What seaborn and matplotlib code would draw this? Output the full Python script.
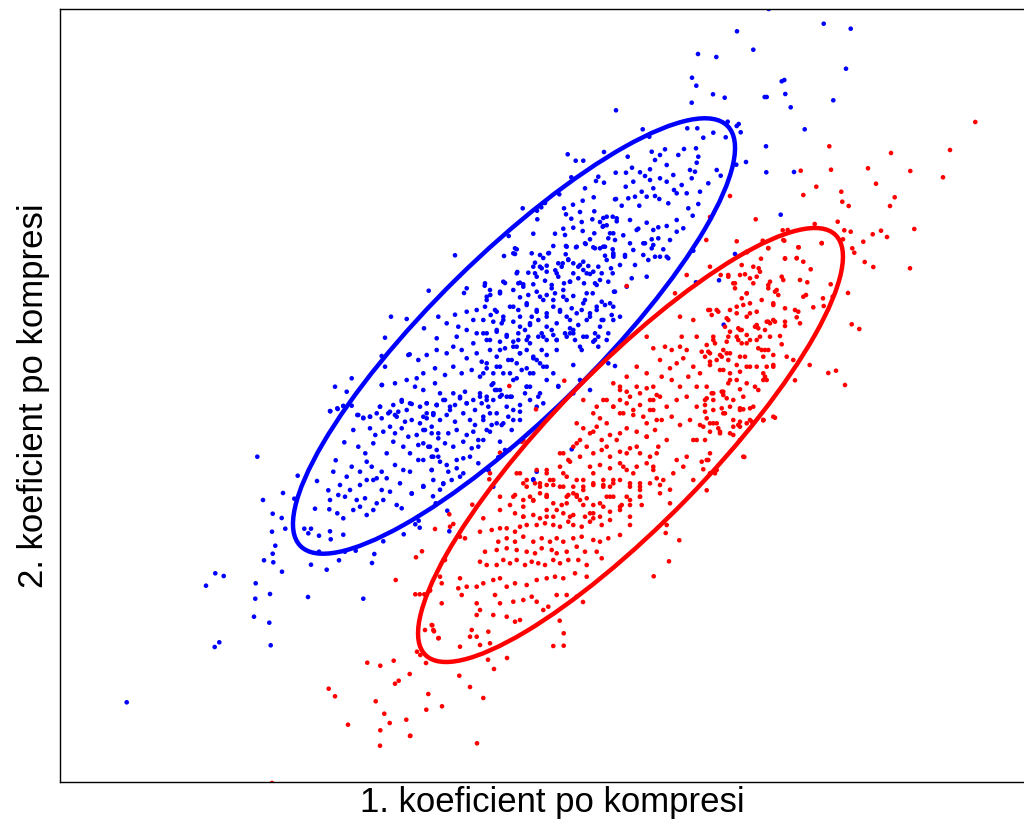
import pandas as pd
import matplotlib
matplotlib.use('Agg')
import matplotlib.pyplot as plt
from matplotlib.patches import Ellipse
import seaborn as sns

# souradnice bodu (x, y), y roste smerem dolu
blue_core = [
    (559.3,194.3),(582.7,200.7),(593.7,197.3),(615,199.3),(537,210.7),(541.3,207.3),(545,203),(537.3,219.3),
    (564,208.3),(573,204.7),(580,212),(594.3,211.3),(603.3,218),(612.7,216.7),(566,214.3),(571.3,218.7),
    (581.7,222),(592.3,219.3),(600,222),(602.7,226.7),(606.7,225.3),(616.7,221.3),(571.3,177.3),(585,188.3),
    (596,181),(598.3,176.7),(604,182.7),
    (563.3,228.7),(573.3,227.7),(555,233.7),(533.3,233.7),(553.3,246),(565,235),(582.7,231),(594.3,233.3),
    (590,239.3),(608.3,238.3),(613.3,233.3),(508.7,236),(516.7,249.3),(515,254),(504,256),
    (531.7,253.3),(543.3,258),(549,253),(566,246),(576,247.3),(585.7,244),(593.3,247.3),(600,248.3),
    (605,255.7),(612.7,249.3),(613.3,256.7),(535,262.7),(540,266.7),(546.7,265.7),(555.3,270.3),(562.7,263.3),
    (565.7,254.3),(568.3,259.3),(573.3,263.3),(578.3,266.7),(583.3,261.7),(588.3,266),(593.3,271.7),(601.7,273.3),
    (611,268.3),(517.3,272),(528.3,272.7),(536.7,276.7),(533.3,284.3),(523.3,284.3),(520,282.7),(545,280.7),
    (551.7,285),(558.3,276.7),(564,283.3),(570,281.7),(573.3,273.3),(578.3,278.3),(584,283.3),(590,274),
    (595,283.3),(600,280),(608.3,281.7),(612.7,273.3),(614,291.7),(484.7,285.7),(505,283),(464,293),
    (466.7,288.3),(486.7,296.7),(490.3,295),(500,291.7),(513.3,290),(520,297.3),(528.3,295),(536.7,291.7),
    (543.3,300),(546.7,295),(555,293.3),(563.3,296.7),(573.3,296),(585,300),(592.7,293.3),(601.7,301.7),
    (610,303.3),(455,314.7),(466.7,311.7),(476.7,310),(485,306.7),(490.7,315),(496.7,311.7),(503.3,316.7),
    (510,306.7),(518.3,310),(526.7,305),(531.7,316.7),(536.7,311.7),(546.7,313.3),(553.3,306.7),(560,311.7),
    (566.7,316.7),(571.7,308.3),(581.7,310),(590,313.3),(596.7,306.7),(603.3,320),(611.7,315),(613.3,306.7),
    (473.3,320),(483.3,320),(493.3,321.7),(501.7,323.3),(513.3,321.7),(520,326.7),(530,325),(538.3,320),
    (546.7,326.7),(556.7,323.3),(570,328.3),(578.3,325),(586.7,320),(600,326.7),(608.3,333.3),(438.3,316.7),
    (446.7,323.3),(458.3,326.7),(466.7,330),(476.7,333.3),(486.7,333.3),(496.7,331.7),(506.7,335),(518.3,333.3),
    (528.3,336.7),(541.7,333.3),(553.3,335),(573.3,333.3),(583.3,336.7),(595,333.3),(424,328.3),
    (408.3,355),(418.3,360),(426.7,355),(436.7,350),(446.7,353.3),(453.3,346.7),(461.7,350),(466.7,358.3),
    (476.7,353.3),(481.7,361.7),(490,350),(496.7,356.7),(505,348.3),(511.7,360),(516.7,346.7),(520,353.3),
    (526.7,350),(533.3,358.3),(540,363.3),(546.7,355),(556.7,350),(566.7,336.7),(575,340),(436.7,338.3),
    (456.7,336.7),(473.3,343.3),(486.7,340),(500,341.7),(513.3,341.7),(526.7,340),(543.3,336.7),(556.7,340),
    (573.3,365),(581.7,350),(593.3,341.7),(598.3,336.7),(395,383.3),(406.7,380),(416.7,378.3),(423.3,373.3),
    (435,368.3),(445,375),(453.3,366.7),(461.7,373.3),(471.7,370),(480,376.7),(486.7,368.3),(493.3,373.3),
    (500,366.7),(510,373.3),(516.7,378.3),(526.7,368.3),(533.3,373.3),(546.7,366.7),(553.3,373.3),(409.7,354.3),
    (330,411),(337.3,408.3),(343.3,406),(357.3,415),(363.3,417.7),(370,416.7),(380,406.7),(381.7,385),
    (390,411.7),(395,415),(398.3,411.7),(401.7,400),(406.7,410),(410,403.3),(415,386.7),(420,406.7),
    (426.7,413.3),(433.3,413.3),(436.7,405),(443.3,400),(450,410),(455,405),(460,396.7),(466.7,403.3),
    (475,410),(480,396.7),(488.3,406.7),(493.3,400),(500,390),(506.7,396.7),(513.3,410),(520,405),
    (525,393.3),(530,386.7),(538.3,396.7),(543.3,403.3),(346.7,391.7),(385,366.7),
    (380,406.7),(393.3,405),(401.7,401.7),(411.7,404),(426.7,403.3),(436.7,405),(358.3,415),(363.3,418.3),
    (370,416.7),(376.7,413.3),(381.7,418.3),(388.3,413.3),(396.7,416.7),(405,421.7),(411.7,420),(420,423.3),
    (426.7,418.3),(433.3,415),(353.3,430),(370,428.3),(375.3,435),(383.3,431.7),(390,426.7),(395,433.3),
    (401.7,428.3),(408.3,436.7),(416.7,435),(425,430),(431.7,426.7),(438.3,433.3),(344.3,442.3),(358.3,446.7),
    (365.3,453.3),(373.3,443.3),(386.7,453.3),(393.3,441.7),(403.3,446.7),(410,453.3),(418.3,445),(428.3,446.7),
    (433.3,456.7),(335.7,460.3),(346.7,476.7),(351.7,466.7),(360,471.7),(366.7,461.7),(371.7,466.7),(376.7,478.3),
    (381.7,471.7),(386.7,478.3),(395,465),(403.3,470),(410,471.7),(418.3,460),(423.3,486.7),(431.7,470),
    (438.3,456.7),(317,481),(328.3,490.3),(333.3,471.7),(340,485),(350,490),(360,485),(366.7,480),
    (373.3,480),(381.7,490),(390,491.7),(400,483.3),(411.7,493.3),(330,500),(338.3,495),(345,496.7),
    (356.7,500),(365,498.3),(376.7,503.3),(383.3,500),(396.7,505),(315,508.7),(329.3,509.3),(337.3,513.3),
    (343.3,518.3),(353.3,510),(360,506.7),(366.7,515),(373.3,510),(401.7,508.3),(304.3,528.7),(308.3,533.3),
    (311,528.7),(319,535.7),(330,531.3),(330.7,539.3),(343.3,534.7),(319,551.7),
    (627.7,156.7),(615.7,172.7),(626,172.7),(632,167.7),(640,172.3),(645,176),(650,169.3),(651.7,151.7),
    (655,160),(660,155),(665,149.3),(666.7,165),(673.3,175),(678.3,155),(684,149),(690,170),
    (695,171.7),(696,148.3),(698.3,156.7),(696.7,162.7),(687.3,128.3),(697.3,128.3),(703.3,137.7),(713.3,132.7),
    (649.3,136.7),(642.7,129.3),(625.7,186.7),(633.3,181.7),(641.7,191.7),(650,180),(653.3,188.3),(660,178.3),
    (666.7,181.7),(674,190),(681.7,185),(686.7,193.3),(691.7,178.3),(700,191.7),(708.3,183.3),(716.7,170),
    (616,199),(621.7,205.7),(628.3,198.3),(635,196.7),(639.3,205.7),(646.7,196.7),(655,196),(659.3,199),
    (668.3,203.3),(676.7,193.3),(688.3,208.3),(692.7,215.7),(698.3,204),(606.7,216.7),(616.7,218.3),(630,220),
    (638.3,228.7),(646.7,222.7),(653.3,230),(658.3,227.3),(666.7,226),(676.7,220),(683.3,228.3),(603.3,226),
    (610,233.3),(615,240),(623.3,235.3),(630,243.3),(636.7,230),(645,243.3),(651.7,239.3),(658.3,238.3),
    (663.3,249.3),(670,240),(676.7,231.7),(603.3,246.7),(613.3,253.3),(625,255),(633.3,250),(643.3,255),
    (651.7,248.3),(660,256.7),(668.3,258.3),(693.3,250.7),
    (485,283.3),(486.7,300),(490,290),(500,293.3),(503.3,281.7),(513.3,253.3),(515,248.3),(516.7,273.3),
    (518.3,283.3),(523.3,286.7),(533.3,266.7),(535,273.3),(540,255),(541.7,268.3),(546.7,271.7),(548.3,253.3),
    (551.7,288.3),(556.7,273.3),(558.3,263.3),(561.7,266.7),(566.7,246.7),(568.3,260),(570,281.7),(576.7,246.7),
    (580,265),(583.3,270),(585,243.3),(586.7,273.3),(595,248.3),(596.7,285),(598.3,266.7),(605,246.7),
    (606.7,260),(613.3,255),(615,291.7),(620,265),(625,256.7),(626.7,286.7),(631.7,278.3),(635,265),
    (643.3,243.3),(646.7,276.7),(648.3,260),(653.3,245),(655,256.7),(666.7,256.7),(495,310),(503.3,320),
    (513.3,306.7),(520,316.7),(526.7,303.3),(530,323.3),(536.7,310),(540,296.7),(546.7,316.7),(553.3,300),
    (560,310),(566.7,300),(570,320),(576.7,313.3),(583.3,303.3),(590,316.7),(596.7,310),(601.7,320),
    (605,305),(613.3,320),(620,316.7),(586.7,293.3),(563.3,290),(483.3,333.3),(490,340),(496.7,330),
    (500,350),(506.7,336.7),(513.3,346.7),(518.3,340),(520,353.3),(525,330),(530,343.3),(533.3,356.7),
    (538.3,336.7),(541.7,350),(546.7,340),(551.7,330),(556.7,340),(565,333.3),(570,333.3),(573.3,330),
    (580,346.7),(586.7,336.7),(595,340),(598.3,346.7),(606.7,340),(483.3,373.3),(486.7,363.3),(493.3,383.3),
    (496.7,366.7),(503.3,373.3),(508.3,360),(513.3,380),(516.7,363.3),(521.7,370),(530,373.3),(536.7,360),
    (543.3,366.7),(546.7,380),(558.3,386.7),(573.3,393.3),(580,380),(486.7,400),(495,390),(500,396.7),
    (506.7,406.7),(511.7,396.7),(520,411.7),(526.7,386.7),(530,400),(536.7,406.7),(540,393.3),(483.3,420),
    (490,431.7),(496.7,413.3),(503.3,423.3),(511.7,430),(520,420),(483.3,440),(500,441.7),(505,450),
    (488.3,470),(493.3,486.7),(533.3,480),(536.7,471.7),
    (423.3,390),(435,383.3),(440,393.3),(426.7,403.3),(436.7,405),(445,400),(450,406.7),(453.3,393.3),
    (460,398.3),(465,391.7),(466.7,403.3),(473.3,400),(480,393.3),(481.7,403.3),(486.7,396.7),(491.7,385),
    (496.7,390),(501.7,395),(510,396.7),(423.3,416.7),(433.3,413.3),(440,420),(446.7,415),(455,421.7),
    (463.3,413.3),(470,420),(475,425),(483.3,416.7),(490,413.3),(496.7,423.3),(501.7,425),(508.3,416.7),
    (513.3,420),(423.3,430),(431.7,433.3),(438.3,438.3),(448.3,433.3),(456.7,430),(466.7,435),(473.3,431.7),
    (478.3,440),(486.7,430),(491.7,425),(423.3,443.3),(430,446.7),(436.7,450),(445,443.3),(453.3,446.7),
    (463.3,441.7),(471.7,448.3),(478.3,446.7),(423.3,460),(431.7,456.7),(440,461.7),(446.7,465),(456.7,460),
    (463.3,458.3),(470,456.7),(478.3,463.3),(431.7,470),(448.3,471.7),(456.7,468.3),(463.3,473.3),(423.3,486.7),
    (433.3,480),(443.3,483.3),(451.7,480),(460,476.7),(488.3,470),(498.3,457.3),
]

blue_outer = [
    (257.3,456.7),(263,500),(283,493),(272.7,513.7),(281.7,518),(285.3,528.7),(272,531.7),(275.3,545.7),
    (272.7,553.7),(264,560.3),(273.3,562.3),(282,571.7),(215.3,573.3),(223.7,576),(206,585.7),(255.7,583.3),
    (270,594),(255.3,598.7),(308,597),(363.3,598.7),(254,616.7),(269.3,622.7),(219.3,642.3),(214.7,647),
    (270.7,645.3),(126.7,702.3),(311,564.7),(326.7,569.7),(339,560.3),(372,563),(374.3,554),(383.3,541.3),
    (403.7,534.3),(415.3,524.3),(419.7,527.7),(355.7,550.7),(345,551.7),(297.7,475.7),(294.3,498.7),
    (330.3,411.3),(337.7,409),(343.3,406),(351.7,405.7),(423.3,486),(411.7,493.7),(433,496.3),(435.7,503.3),
    (440,489.7),(443.3,484),(447.3,510.7),(449.3,531.3),(418.7,520.7),
    (768.7,9),(823.7,23.7),(850.7,28.7),(737,31.3),(753.3,49.7),(698,54),(716.3,57),(846,68.7),
    (692,77.7),(696.3,85.7),(781.7,81.3),(784.3,80),(713,94.3),(724.7,97.7),(764.7,97),(766.7,97),
    (785.3,94),(691.7,102.7),(833.3,100.3),(790.7,107.3),(616,110.3),(804.7,129.3),(766,146.3),(746,162),
    (766.3,172.3),(794,172),(780.7,214.7),(738.7,124),(736.7,126),(740.7,132.3),(727.7,121.7),(736.3,164.7),
    (725.7,137.3),(720.7,175.7),(604,152),
    (567.7,154.3),(575.7,160.7),(583.3,160.7),(522.7,208.3),(455,255.3),(391,316.7),(406.7,319),(428.7,290.7),
    (385,337.7),(381.7,356),(382,385),(335,386.7),(351.7,378.3),
    (735,254),(719,280.3),(723.7,324.7),(696,282.3),(571.7,449.3),(533.3,479.3),(608.3,363.3),(615,366),
    (526.7,386.7),(558.3,386),(590,390),
]

red_core = [
    (710,266.7),(720.7,275),(728.3,275),(735,283.3),(745,274.3),(746.7,293.3),(753.3,283.3),(758.7,268.3),
    (768.3,285),(775,291.7),(773.3,305),(710,310),(718.3,311.7),(728.3,320),(736.7,306.7),(740,330),
    (746.7,316.7),(756.7,325),(766.7,321.7),(773.3,320),(680,316.7),(693.3,320),(681.7,336.7),(696.7,336.7),
    (713.3,340),(728.3,336.7),(736.7,336.7),(746.7,343.3),(756.7,340),(765,350),(773.3,355),(653.3,348.3),
    (665,346.7),(671.7,350),(680,346.7),(686.7,350),(701.7,351.7),(710,353.3),(720,355),(730,353.3),
    (740,356.7),(746.7,366.7),(756.7,366.7),(765,376.7),(773.3,365),(646.7,336.7),(660,360),(670,368.3),
    (676.7,363.3),(683.3,358.3),(693.3,366.7),(700,373.3),(710,365),(720,370),(730,373.3),(736.7,380),
    (746.7,383.3),(755,386.7),(763.3,380),(626.7,376.7),(636.7,366.7),(646.7,373.3),(653.3,386.7),(661.7,376.7),
    (671.7,380),(680,386.7),(688.3,376.7),(696.7,386.7),(706.7,386.7),(713.3,393.3),(723.3,391.7),(733.3,400),
    (743.3,396.7),(753.3,406.7),(763.3,420),(773.3,416.7),(620,390),(630,396.7),(640,393.3),(650,400),
    (660,396.7),(666.7,406.7),(676.7,400),(686.7,396.7),(696.7,406.7),(705,400),(713.3,410),(723.3,413.3),
    (733.3,420),(740,408.3),(746.7,423.3),(603.3,400),(613.3,406.7),(623.3,413.3),(633.3,410),(643.3,416.7),
    (653.3,410),(661.7,420),(671.7,416.7),(680,425),(690,420),(700,425),(710,423.3),(720,431.7),
    (730,433.3),(740,426.7),
    (523.3,440),(536.7,470),(546.7,470),(560,453.3),(568.3,460),(573.3,446.7),(580,440),(590,433.3),
    (596.7,426.7),(606.7,446.7),(616.7,440),(626.7,453.3),(636.7,446.7),(646.7,436.7),(656.7,453.3),(666.7,440),
    (676.7,460),(686.7,456.7),(696.7,440),(706.7,460),(516.7,473.3),(526.7,480),(540,486.7),(553.3,480),
    (563.3,473.3),(573.3,493.3),(583.3,480),(593.3,473.3),(603.3,486.7),(613.3,480),(623.3,466.7),(633.3,473.3),
    (640,486.7),(653.3,466.7),(663.3,480),(673.3,473.3),(683.3,466.7),(693.3,480),(513.3,496.7),(523.3,506.7),
    (533.3,500),(546.7,496.7),(556.7,510),(566.7,503.3),(580,500),(590,513.3),(600,503.3),(610,496.7),
    (620,506.7),(630,500),(640,496.7),(660,493.3),(670,503.3),(500,510),(523.3,516.7),(546.7,516.7),
    (570,516.7),(593.3,518.3),(713.3,423.3),(720,433.3),(733.3,426.7),(740,440),(750,420),(763.3,420),
    (743.3,456.7),(716.7,470),(693.3,440),
    (583.3,400),(593.3,413.3),(600,418.3),(606.7,423.3),(613.3,383.3),(620,386.7),(626.7,391.7),(636.7,386.7),
    (646.7,388.3),(653.3,400),(626.7,403.3),(620,400),(640,405),(650,410),(656.7,395),(613.3,406.7),
    (606.7,400),(596.7,406.7),(620,413.3),(633.3,415),(646.7,423.3),(656.7,420),(576.7,423.3),(583.3,428.3),
    (593.3,431.7),(601.7,440),(610,435),(620,433.3),(626.7,428.3),(636.7,431.7),(646.7,436.7),(655,430),
    (563.3,453.3),(576.7,443.3),(586.7,446.7),(593.3,453.3),(601.7,450),(610,456.7),(620,451.7),(630,448.3),
    (640,453.3),(650,456.7),(658.3,446.7),(560,466.7),(570,461.7),(580,456.7),(590,466.7),(600,465),
    (610,468.3),(620,463.3),(626.7,470),(636.7,466.7),(646.7,463.3),(653.3,470),(546.7,473.3),(540,483.3),
    (550,480),(560,486.7),(566.7,476.7),(576.7,480),(583.3,490),(593.3,485),(603.3,480),(610,486.7),
    (620,480),(630,486.7),(640,490),(650,483.3),(656.7,478.3),(520,473.3),(526.7,486.7),(530,496.7),
    (546.7,496.7),(566.7,496.7),(576.7,495),(586.7,498.3),(606.7,496.7),(626.7,496.7),
    (521.7,441.7),(500,452.7),(509.3,450),(490,473.3),(489.3,479.3),
    (763.3,241.7),(768.3,248.3),(783.3,240),(798.3,247.3),(785,258.3),(796.7,258.3),(803.3,261.7),(810.7,269.3),
    (800,280),(807.3,282.3),(821.7,243.3),(746.7,251.7),(753.3,266.7),(760,271.7),(750,278.3),(756.7,276.7),
    (741.7,265),(728.3,276.7),(733.3,283.3),(735,288.3),(740,275),(770,281.7),(768.3,288.3),(776.7,290),
    (778.3,295),(781.7,276.7),(783.3,280),(746.7,293.3),(741.7,298.3),(743.3,305),(750,303.3),(761.7,300),
    (773.3,303.3),(785,308.3),(795,310),(798.3,311.7),(803.3,296.7),(806,295),(813.3,307.3),(730,310),
    (711.7,315),(716.7,310),(708.3,310),(736.7,313.3),(750,313.3),(756.7,311.7),(768.3,321.7),(770,323.3),
    (775,321.7),(785,321.7),(785,326),(800,323.3),(796.7,317.3),(726.7,318.3),(725,326.7),(730,331.7),
    (738.3,328.3),(741.7,330),(746.7,335),(750,340),(755,326.7),(758.3,328.3),(760,336.7),(765,330),
    (770,336.7),(780,336),(781.7,344.3),(768.3,350),(761.7,350),(758.3,348.3),(741.7,343.3),(738.3,340),
    (713.3,336.7),(715,343.3),(706.7,345),(708.3,351.7),(726.7,341.7),(726.7,353.3),(723.3,350),(721.7,356.7),
    (716.7,360),(710,361.7),(705,356.7),(728.3,360),(723.3,370),(736.7,365),(740,371.7),(745,356.7),
    (750,366.7),(763.3,356.7),(766.7,366.7),(773.3,366.7),(786.7,356.7),(793.3,360),(763.3,373.3),(766.7,380),
    (730,380),(728.3,383.3),(740,389.3),(758.3,390),(721.7,391.7),(723.3,395),(711.7,393.3),(706.7,398.3),
    (705,405),(713.3,400),(726.7,398.3),(730,406.7),(721.7,408.3),(725,413.3),(705,411.7),(706.7,418.3),
    (716.7,423.3),(718.3,428.3),(703.3,426.7),(710,431.7),(705,440),(740,410),(743.3,409.3),(750,408.3),
    (751.7,421.7),(740,421.7),(738.3,425),(733.3,435),(710,453.3),(708.3,460),(701.7,461.7),(703.3,469.3),
    (710,473.3),(715,473.3),(830.7,284.3),(832.7,296.7),(823,298.3),(823.7,306),
    (523.3,483.3),(535,483.3),(546.7,485),(553.3,485),(563.3,486.7),(573.3,486.7),(583.3,486.7),(593.3,483.3),
    (603.3,485),(613.3,483.3),(630,483.3),(640,483.3),(660,485),(500,496.7),(510,505),(515,495),
    (523.3,500),(533.3,500.7),(540,493.3),(546.7,495),(553.3,503.3),(561.7,505),(568.3,495),(576.7,496.7),
    (583.3,505),(593.3,505),(603.3,506.7),(613.3,496.7),(621.7,505),(630,505),(640,496.7),(641.7,505),
    (515,513.3),(523.3,516.7),(533.3,515),(540,518.3),(546.7,510),(553.3,516.7),(563.3,513.3),(573.3,515),
    (585,516.7),(593.3,513.3),(600,516.7),(610,511.7),(620,510),(630,516.7),(483.3,518.3),(491.7,530),
    (500,528.3),(506.7,528.3),(515,531.7),(520,526.7),(526.7,525),(536.7,525),(545,523.3),(553.3,525),
    (560,526.7),(568.3,521.7),(573.3,525),(581.7,526.7),(590,521.7),(601.7,525),(610,520),(620,535),
    (630,525),(480,531.7),(498.3,541.7),(506.7,538.3),(515,541.7),(523.3,536.7),(533.3,541.7),(541.7,538.3),
    (550,541.7),(556.7,538.3),(563.3,541.7),(573.3,538.3),(581.7,536.7),(593.3,540),(600,541.7),(608.3,538.3),
    (485,551.7),(496.7,550),(506.7,548.3),(516.7,550),(526.7,551.7),(535,553.3),(541.7,548.3),(551.7,550),
    (556.7,553.3),(566.7,551.7),(576.7,546.7),(585,551.7),(596.7,551.7),(480,561.7),(486.7,565),(496.7,565),
    (503.3,560),(510,563.3),(516.7,560),(525,565),(531.7,561.7),(538.3,563.3),(545,565),(553.3,560),
    (560,563.3),(568.3,560),(578.3,560),(586.7,565),(601.7,558.3),(460,578.3),(466.7,586.7),(476.7,586.7),
    (483.3,583.3),(493.3,580),(500,578.3),(506.7,586.7),(515,583.3),(526.7,585),(536.7,580),(546.7,578.3),
    (555,576.7),(563.3,578.3),(575,573.3),(586.7,576.7),(461.7,595),(476.7,603.3),(495,595),(500,603.3),
    (513.3,601.7),(523.3,600),(531.7,596.7),(536.7,601.7),(548.3,606.7),(556.7,595),(566.7,595),(576.7,596.7),
    (480,610),(476.7,615),(493.3,615),(506.7,616.7),(515,621.7),(520,620),(543.3,610),(471.7,630),
    (476.7,636.7),(488.3,631.7),(470,636.7),(490,643.3),(480,645),(460,646.7),(433.3,630),(431.7,625),
    (438.3,638.3),(425,630),(443.3,560),(440,576.7),(441.7,583.3),(458.3,588.3),(441.7,603.3),(430,590),
    (460,536.7),(465,538.3),(445,560),
]

red_outer = [
    (435,529),(416,557.3),(422,551.3),(395.7,580),(415.3,594.3),(419.7,594.3),(424.3,594.3),(430,590.7),
    (432.3,625.3),(434,631.3),(438.7,638),(417,651.7),(420.3,655),(426,663),(367.3,662.7),(380.3,665.7),
    (393.7,660.7),(409.7,674),(395,683.7),(398.7,680.7),(328.7,688.7),(335,696.3),(428.3,694),(375.7,701.3),
    (384.3,713.7),(389.7,723),(406.3,719.7),(426.3,709.7),(348,724.7),(380.3,730.3),(410.3,735.7),(380,745.7),
    (272,783),(706.7,490.3),(670,489.7),(679.3,540.3),(665.7,533),(666.7,525),(669,561.3),(653.7,576.3),
    (583,602),(559.7,620.7),(563.7,633.3),(563.7,645.7),(553.3,646),(507,658),(488,659.7),(494,669),
    (459.3,675.7),(470,687),(483.3,698),(442,706.3),(410,736),(477,743.3),(449.3,514.3),(453.3,524),
    (450,526.7),(472.3,504.7),
    (975.3,122),(950,150),(891,153),(829.3,146.3),(831,169.7),(800.7,170.7),(868,168.3),(910.3,171),
    (943,177.3),(876,183.7),(816.3,186.7),(803.3,195),(841.3,191.7),(842.3,201.7),(848.7,206),(894.7,197.3),
    (890,206),(730,196),(710,217),(755.7,219.3),(837.7,221.7),(914.3,229),(881,230.7),(887,237),
    (872.7,234.3),(863.3,241.7),(844.3,230.3),(850.7,231.7),(843,239.3),(852.3,248.3),(854.3,252.7),(782.7,230.3),
    (787.7,230),(814.7,224),(706.3,240),(736.7,241.3),(762.7,240.7),(784.3,240.7),(798.7,247.3),(821.7,243),
    (768.3,248),(747,252.3),(761,258.7),(785,258.7),(796.7,258),
    (910,268.3),(873.3,267),(864.7,262),(848,293),(851.7,324.3),(859.3,329),(809.7,365),(828.3,373),
    (836,370.7),(845,385),(795,380.3),(775,417.7),(763.3,420.3),(744.3,457),
    (626.7,286),(509.3,386),(536,409.3),(564.3,380.7),(675,293.3),(686.7,275),
]

# elipsy (stred, osy, uhel) pro obe tridy
ellipse_centers = [(514, 336), (630.5, 445)]
ellipse_widths = [599, 587]
ellipse_heights = [162, 156]
ellipse_angles = [-44.5, -45.7]
class_colors = {'modra': '#0000ff', 'cervena': '#ff0000'}

rows = []
for name, pts in [('modra', blue_core + blue_outer), ('cervena', red_core + red_outer)]:
    for x, y in pts:
        rows.append((x, y, name))
df = pd.DataFrame(rows, columns=['x', 'y', 'trida'])

sns.set_style('white')
plt.rcParams['font.family'] = ['Liberation Sans', 'DejaVu Sans']

fig = plt.figure(figsize=(10.24, 8.26), dpi=100)
# osy presahuji pravy okraj obrazku (prava hrana neni videt)
ax = fig.add_axes([60 / 1024, 44 / 826, 984 / 1024, 773 / 826])

sns.scatterplot(data=df, x='x', y='y', hue='trida', palette=class_colors,
                s=11, linewidth=0, legend=False, ax=ax)

for c, w, h, a, col in zip(ellipse_centers, ellipse_widths, ellipse_heights,
                           ellipse_angles, class_colors.values()):
    ax.add_patch(Ellipse(c, w, h, angle=a, fill=False, edgecolor=col, linewidth=3.2))

ax.set_xlim(60, 1044)
ax.set_ylim(782, 9)
ax.set_xticks([])
ax.set_yticks([])
for side in ['left', 'top', 'bottom']:
    ax.spines[side].set_color('black')
    ax.spines[side].set_linewidth(1.0)
ax.spines['right'].set_visible(False)

ax.set_xlabel('1. koeficient po kompresi', fontsize=25, labelpad=3, color='black')
ax.set_ylabel('2. koeficient po kompresi', fontsize=25, labelpad=7, color='black')

fig.savefig('out.png', dpi=100)
